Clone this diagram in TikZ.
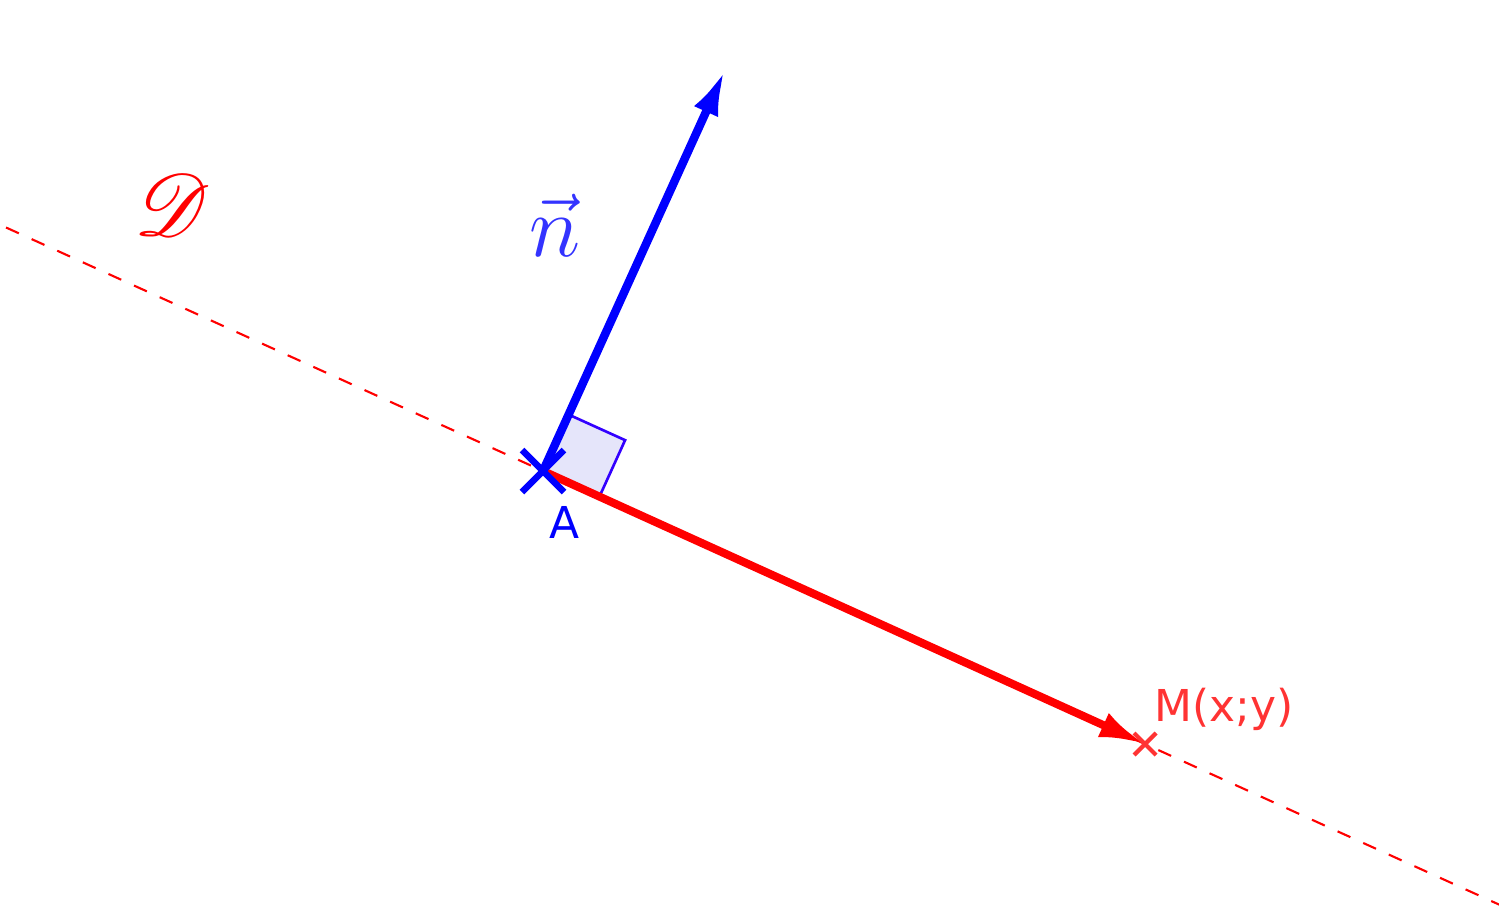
\documentclass[tikz,border=0pt]{standalone}
\usepackage{amsmath}
\usepackage{mathrsfs}
\usepackage{fontspec}
\setsansfont{DejaVu Sans}
\usetikzlibrary{arrows.meta,calc}
\definecolor{nlabel}{rgb}{0.2,0.2,1}
\definecolor{mlabel}{rgb}{1,0.2,0.2}
\definecolor{sqdraw}{rgb}{0.2,0,1}
\definecolor{sqfill}{rgb}{0.9,0.9,0.98}

\begin{document}
\begin{tikzpicture}
    \useasboundingbox (0,0) rectangle (14.99,9.08);
    % Points
    \coordinate (A) at (5.43,4.37);
    \coordinate (M) at (11.45,1.64);
    \coordinate (N) at (7.25,8.38);
    % Draw the line D
    \draw[red, line width=0.6pt, dash pattern=on 4pt off 4pt] ($(A)!-0.892!(M)$) -- ($(A)!1.6!(M)$);
    % Right angle mark
    \draw[sqdraw, fill=sqfill, line width=0.75pt] (A) -- ($(A)!0.62cm!(M)$) -- ($($(A)!0.62cm!(M)$)+($(A)!0.62cm!(N)$)-(A)$) -- ($(A)!0.62cm!(N)$) -- cycle;
    % Draw the vectors
    \draw[red, line width=2.3pt, -{Latex[length=13pt,width=7.5pt]}] (A) -- (M);
    \draw[blue, line width=2.4pt, -{Latex[length=13pt,width=7.5pt]}] (A) -- (N);
    % Crosses
    \draw[blue, line width=1.9pt] ($(A)+(-0.21,-0.21)$) -- ($(A)+(0.21,0.21)$);
    \draw[blue, line width=1.9pt] ($(A)+(-0.21,0.21)$) -- ($(A)+(0.21,-0.21)$);
    \draw[mlabel, line width=1.2pt] ($(M)+(-0.11,-0.11)$) -- ($(M)+(0.11,0.11)$);
    \draw[mlabel, line width=1.2pt] ($(M)+(-0.11,0.11)$) -- ($(M)+(0.11,-0.11)$);
    % Labels
    \node[red, font=\fontsize{26}{30}\selectfont] (dlab) at (1.72,7.03) {$\mathscr{D}$};
    \node[nlabel, font=\fontsize{26}{30}\selectfont] (nlab) at (5.55,6.83) {$\vec{n}$};
    \node[blue, font=\sffamily\fontsize{12.5}{14}\selectfont] (alab) at (5.65,3.86) {A};
    \node[mlabel, font=\sffamily\fontsize{12.5}{14}\selectfont] (mlab) at (12.24,1.99) {M(x;y)};
\end{tikzpicture}
\end{document}
